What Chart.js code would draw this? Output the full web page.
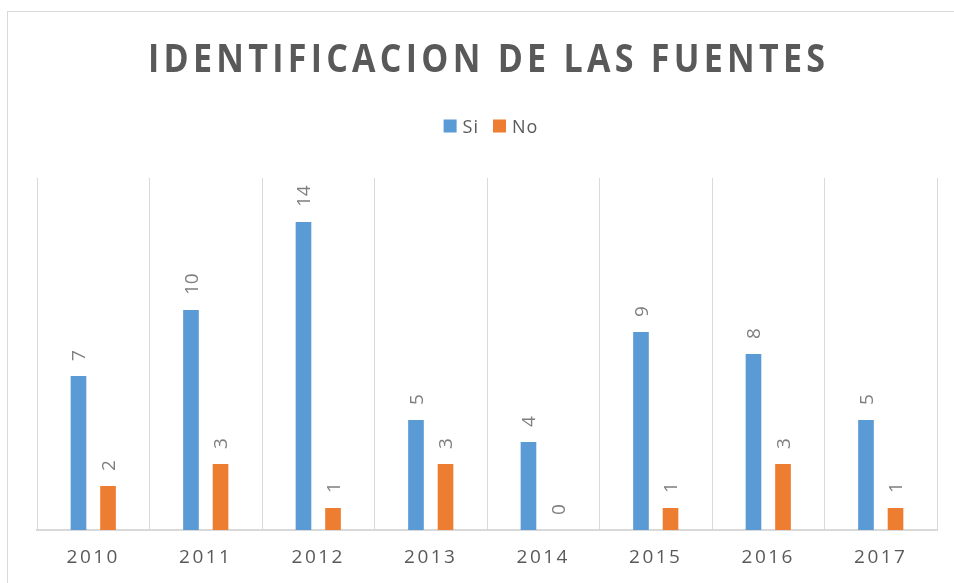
<!DOCTYPE html>
<html>
<head>
<meta charset="utf-8">
<script src="https://cdn.jsdelivr.net/npm/chart.js@4/dist/chart.umd.min.js"></script>
<style>
  body { margin: 0; background: #fff; overflow: hidden; }
  .frame {
    position: absolute;
    left: 7px;
    top: 11px;
    width: 2000px;
    height: 2000px;
    border-left: 1px solid #d9d9d9;
    border-top: 1px solid #d9d9d9;
  }
  .wrap { position: absolute; left: 0; top: 0; width: 954px; height: 583px; }
</style>
</head>
<body>
<div class="frame"></div>
<div class="wrap"><canvas id="chart" width="954" height="583"></canvas></div>
<script>
'use strict';

const years = ['2010', '2011', '2012', '2013', '2014', '2015', '2016', '2017'];
const siValues = [7, 10, 14, 5, 4, 9, 8, 5];
const noValues = [2, 3, 1, 3, 0, 1, 3, 1];
const seriesNames = ['Si', 'No'];
const seriesColors = ['#5b9bd5', '#ed7d31'];
const titleText = 'IDENTIFICACION DE LAS FUENTES';

const grey = '#595959';
const ctx = document.getElementById('chart').getContext('2d');

// title + legend, drawn by hand to get Excel-like spacing
const headerPlugin = {
  id: 'header',
  beforeDraw(chart) {
    // letter spacing for the axis labels
    chart.ctx.letterSpacing = '2.5px';
  },
  afterDraw(chart) {
    const c = chart.ctx;
    c.save();

    // title
    c.font = 'bold 40px "Open Sans"';
    c.fillStyle = grey;
    c.textAlign = 'left';
    c.textBaseline = 'alphabetic';
    c.letterSpacing = '0px';
    const w0 = c.measureText(titleText).width;
    const spacing = 5;
    const total = w0 + spacing * (titleText.length - 1);
    const sx = Math.min(1, 677 / total);
    c.letterSpacing = spacing + 'px';
    c.save();
    c.translate(148, 72);
    c.scale(sx, 1);
    c.fillText(titleText, 0, 0);
    c.restore();

    // legend
    c.font = '18px "Open Sans"';
    c.letterSpacing = '1px';
    const items = chart.data.datasets.map(ds => ({
      label: ds.label,
      color: ds.backgroundColor,
      w: c.measureText(ds.label).width,
    }));
    const box = 13;
    const gap = 6;
    const itemGap = 14;
    let width = 0;
    items.forEach((it, i) => {
      width += box + gap + it.w + (i < items.length - 1 ? itemGap : 0);
    });
    let x = 491 - width / 2;
    items.forEach(it => {
      c.fillStyle = it.color;
      c.fillRect(x, 119.5, box, box);
      c.fillStyle = grey;
      c.fillText(it.label, x + box + gap, 133);
      x += box + gap + it.w + itemGap;
    });

    c.restore();
  },
};

// rotated value labels above each bar
const valueLabels = {
  id: 'valueLabels',
  afterDatasetsDraw(chart) {
    const c = chart.ctx;
    c.save();
    c.letterSpacing = '0px';
    c.font = '19px "Open Sans"';
    c.fillStyle = '#7f7f7f';
    c.textAlign = 'left';
    c.textBaseline = 'alphabetic';
    chart.data.datasets.forEach((ds, i) => {
      const meta = chart.getDatasetMeta(i);
      meta.data.forEach((bar, j) => {
        c.save();
        c.translate(bar.x, bar.y - 15);
        c.rotate(-Math.PI / 2);
        c.fillText(String(ds.data[j]), 0, 6.8);
        c.restore();
      });
    });
    c.restore();
  },
};

new Chart(ctx, {
  type: 'bar',
  data: {
    labels: years,
    datasets: [
      {
        label: seriesNames[0],
        data: siValues,
        backgroundColor: seriesColors[0],
        borderWidth: 0,
      },
      {
        label: seriesNames[1],
        data: noValues,
        backgroundColor: seriesColors[1],
        borderWidth: 0,
      },
    ],
  },
  options: {
    responsive: false,
    animation: false,
    categoryPercentage: 0.525,
    barPercentage: 0.53,
    layout: {
      padding: { top: 178, left: 37, right: 17, bottom: 0 },
    },
    plugins: {
      legend: { display: false },
      title: { display: false },
      tooltip: { enabled: false },
    },
    scales: {
      x: {
        grid: {
          color: '#d9d9d9',
          lineWidth: 1,
          drawTicks: false,
        },
        border: {
          color: '#d9d9d9',
          width: 2,
        },
        ticks: {
          color: grey,
          padding: 16,
          font: { family: 'Open Sans', size: 19 },
        },
        afterFit(scale) {
          scale.height = 53;
        },
      },
      y: {
        display: false,
        min: 0,
        max: 16,
      },
    },
  },
  plugins: [headerPlugin, valueLabels],
});
</script>
</body>
</html>
